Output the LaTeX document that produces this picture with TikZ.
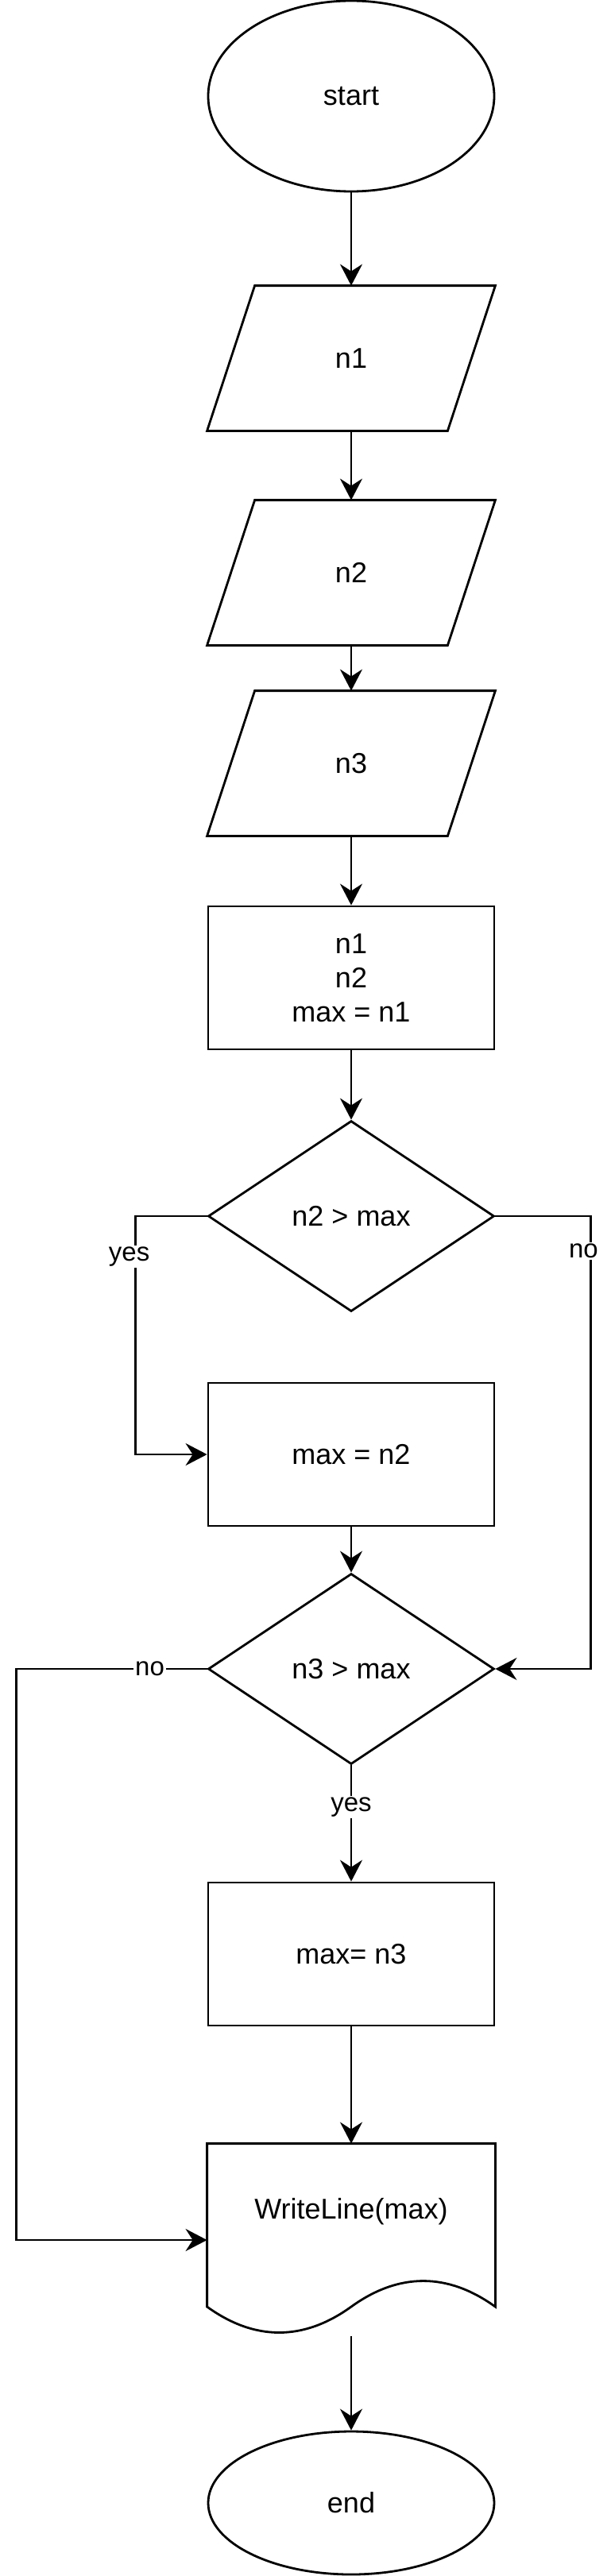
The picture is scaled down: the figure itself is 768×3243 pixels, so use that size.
\documentclass[tikz,border=0pt]{standalone}
\usepackage{fontspec}
\setmainfont{Liberation Sans}
\usetikzlibrary{shapes.geometric,arrows.meta,calc}

\begin{document}
\begin{tikzpicture}[x=1pt,y=-1pt,line width=2.8pt,
		txt/.style={font=\fontsize{36}{43}\selectfont},
		term/.style={ellipse,draw,txt,minimum width=360pt,inner sep=0pt},
		io/.style={rectangle,txt,minimum width=360pt,minimum height=180pt,inner sep=0pt},
		proc/.style={rectangle,draw,txt,align=center,minimum width=360pt,minimum height=180pt,inner sep=0pt},
		cond/.style={diamond,draw,txt,minimum width=360pt,minimum height=240pt,inner sep=0pt},
		docbox/.style={rectangle,minimum width=360pt,minimum height=240pt,inner sep=0pt},
		arr/.style={-{Stealth[length=27pt,width=28pt,inset=9pt]}},
		lbl/.style={fill=white,inner sep=2pt,font=\fontsize{33}{40}\selectfont}]
		\useasboundingbox (0,0) rectangle (768,3243);
		\node [term,minimum height=240pt] (start) at (442,121) {start};
		\node [io] (n1) at (442,451) {n1};
		\node [io] (n2) at (442,721) {n2};
		\node [io] (n3) at (442,961) {n3};
		\node [proc] (init) at (442,1231) {n1\\n2\\max = n1};
		\node [cond] (d1) at (442,1531) {n2 > max};
		\node [proc] (mx2) at (442,1831) {max = n2};
		\node [cond] (d2) at (442,2101) {n3 > max};
		\node [proc] (mx3) at (442,2460) {max= n3};
		\node [docbox] (wl) at (442,2820) {};
		\node [txt] (wltxt) at (442,2784) {WriteLine(max)};
		\node [term,minimum height=180pt] (end) at (442,3151) {end};
		\foreach \p in {n1,n2,n3}
			\draw ($(\p.north west)+(60,0)$) -- (\p.north east) -- ($(\p.south east)+(-60,0)$) -- (\p.south west) -- cycle;
		\draw (wl.north west) -- (wl.north east) -- ($(wl.east)+(0,84)$)
			.. controls ($(wl.east)+(-60,40.7)$) and ($(wl.center)+(60,40.7)$) .. ($(wl.center)+(0,84)$)
			.. controls ($(wl.center)+(-60,127.3)$) and ($(wl.west)+(60,127.3)$) .. ($(wl.west)+(0,84)$) -- cycle;
		\draw [arr] (start) -- (n1);
		\draw [arr] (n1) -- (n2);
		\draw [arr] (n2) -- (n3);
		\draw [arr] (n3) -- (init);
		\draw [arr] (init) -- (d1);
		\draw [arr] (d1.west) -- ++(-90,0) -- node[lbl,pos=0.17,xshift=-8pt] {yes} ++(0,300) -- (mx2.west);
		\draw [arr] (d1.east) -- ++(120,0) -- node[lbl,pos=0.077,xshift=-9pt] {no} ++(0,570) -- (d2.east);
		\draw [arr] (mx2) -- (d2);
		\draw [arr] (d2.west) -- node[lbl,pos=0.3] {no} ++(-240,0) |- (wl.west);
		\draw [arr] (d2.south) -- node[lbl,pos=0.36] {yes} (mx3.north);
		\draw [arr] (mx3) -- (wl);
		\draw [arr] (wl.south) -- (end);
\end{tikzpicture}
\end{document}
